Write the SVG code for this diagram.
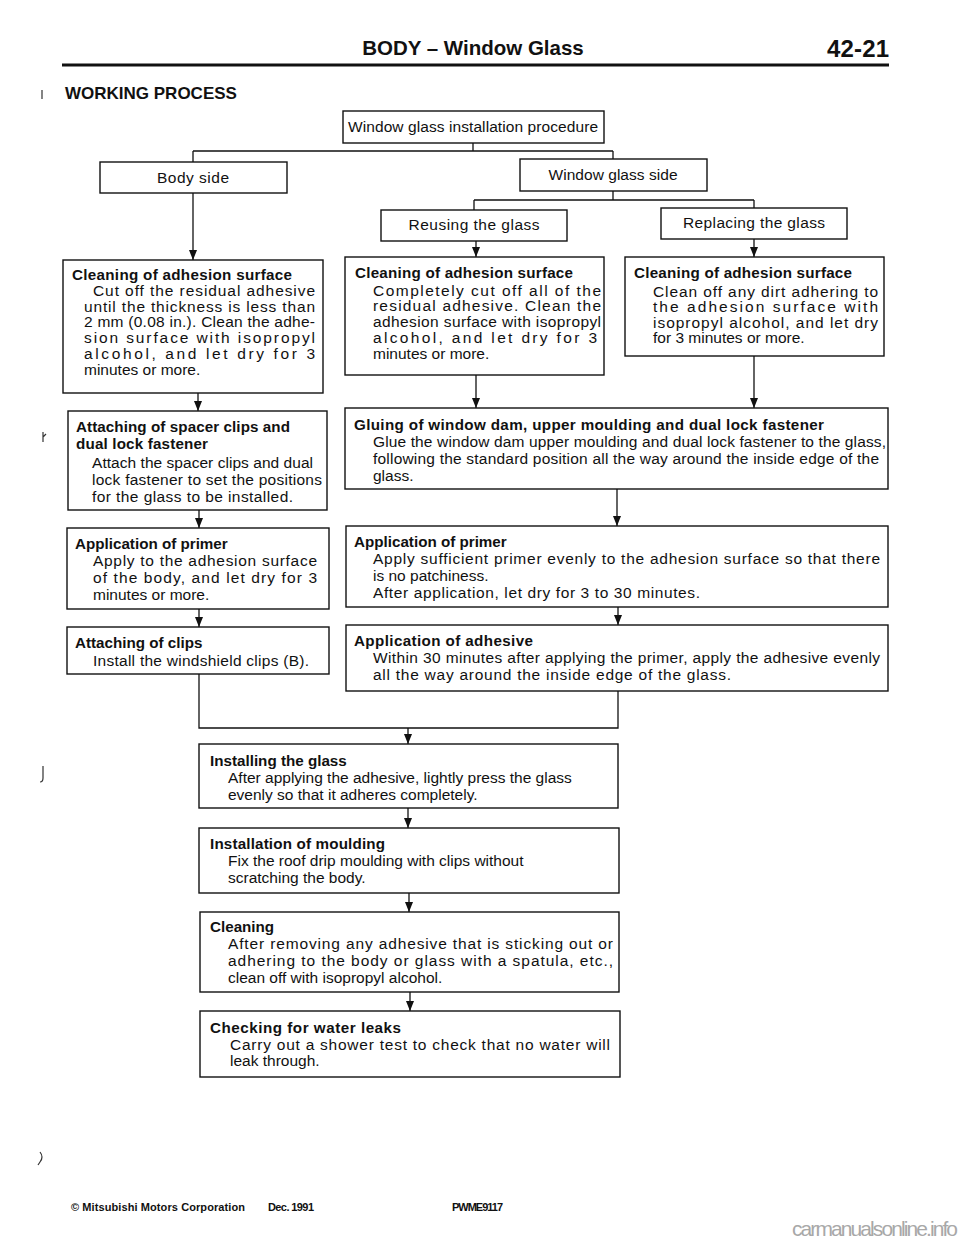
<svg xmlns="http://www.w3.org/2000/svg" width="960" height="1239" viewBox="0 0 960 1239">
<style>
.box{fill:#fff;stroke:#111;stroke-width:1.4}
.ln{fill:none;stroke:#111;stroke-width:1.3}
.arr{fill:none;stroke:#111;stroke-width:1.3;marker-end:url(#ah)}
.t{font-family:"Liberation Sans",Arial,sans-serif;font-size:15.5px;fill:#111}
.b{font-family:"Liberation Sans",Arial,sans-serif;font-size:15.2px;font-weight:bold;fill:#111}
.c{text-anchor:middle}
.h{font-family:"Liberation Sans",Arial,sans-serif;font-weight:bold;fill:#111}
.sp{stroke:#333;stroke-width:1.2;fill:none}
</style>
<defs>
<marker id="ah" markerUnits="userSpaceOnUse" markerWidth="10" markerHeight="10" viewBox="0 -5 10 10" refX="10" refY="0" orient="auto" overflow="visible">
<path d="M0,-4 L10,0 L0,4 z" fill="#111"/>
</marker>
</defs>
<rect width="960" height="1239" fill="#fff"/>

<g id="header">
<text class="h" x="473" y="55" font-size="20.5" text-anchor="middle">BODY – Window Glass</text>
<text class="h" x="827" y="57" font-size="24" textLength="62">42-21</text>
<line x1="62" y1="65" x2="889" y2="65" stroke="#111" stroke-width="3"/>
<text class="h" x="65" y="99" font-size="17">WORKING PROCESS</text>
<path class="sp" d="M42,90 L42,99"/>
</g>

<g id="connectors">
<path class="ln" d="M473,143 V151 M193,151 H613 M193,151 V162 M613,151 V159"/>
<path class="ln" d="M613,191 V200 M474,200 H754 M474,200 V210 M754,200 V208"/>
<path class="arr" d="M193,193 V260"/>
<path class="arr" d="M476,241 V257"/>
<path class="arr" d="M754,239 V257"/>
<path class="arr" d="M198,393 V411"/>
<path class="arr" d="M476,375 V408"/>
<path class="arr" d="M754,356 V408"/>
<path class="arr" d="M199,510 V528"/>
<path class="arr" d="M617,489 V526"/>
<path class="arr" d="M199,609 V627"/>
<path class="arr" d="M618,607 V625"/>
<path class="ln" d="M199,674 V728 H618 V691"/>
<path class="arr" d="M408,728 V744"/>
<path class="arr" d="M408,808 V828"/>
<path class="arr" d="M409,893 V912"/>
<path class="arr" d="M410,992 V1011"/>
</g>

<g id="n-procedure">
<rect class="box" x="343" y="111" width="261" height="32"/>
<text class="t c" x="473" y="132" textLength="250">Window glass installation procedure</text>
</g>
<g id="n-body-side">
<rect class="box" x="100" y="162" width="187" height="31"/>
<text class="t c" x="193" y="183" textLength="72">Body side</text>
</g>
<g id="n-glass-side">
<rect class="box" x="520" y="159" width="187" height="32"/>
<text class="t c" x="613" y="180" textLength="129">Window glass side</text>
</g>
<g id="n-reusing">
<rect class="box" x="381" y="210" width="186" height="31"/>
<text class="t c" x="474" y="230" textLength="131">Reusing the glass</text>
</g>
<g id="n-replacing">
<rect class="box" x="661" y="208" width="186" height="31"/>
<text class="t c" x="754" y="228" textLength="142">Replacing the glass</text>
</g>

<g id="n-clean-body">
<rect class="box" x="63" y="260" width="260" height="133"/>
<text class="b" x="72" y="280" textLength="220">Cleaning of adhesion surface</text>
<text class="t" x="93" y="296" textLength="222">Cut off the residual adhesive</text>
<text class="t" x="84" y="311.7" textLength="231">until the thickness is less than</text>
<text class="t" x="84" y="327.4" textLength="231">2 mm (0.08 in.). Clean the adhe-</text>
<text class="t" x="84" y="343.1" textLength="231">sion surface with isopropyl</text>
<text class="t" x="84" y="358.8" textLength="231">alcohol, and let dry for 3</text>
<text class="t" x="84" y="374.5">minutes or more.</text>
</g>

<g id="n-clean-reuse">
<rect class="box" x="345" y="257" width="259" height="118"/>
<text class="b" x="355" y="278" textLength="218">Cleaning of adhesion surface</text>
<text class="t" x="373" y="295.5" textLength="228">Completely cut off all of the</text>
<text class="t" x="373" y="311.3" textLength="228">residual adhesive. Clean the</text>
<text class="t" x="373" y="327" textLength="228">adhesion surface with isopropyl</text>
<text class="t" x="373" y="342.8" textLength="224">alcohol, and let dry for 3</text>
<text class="t" x="373" y="358.5">minutes or more.</text>
</g>

<g id="n-clean-replace">
<rect class="box" x="625" y="257" width="259" height="99"/>
<text class="b" x="634" y="278" textLength="218">Cleaning of adhesion surface</text>
<text class="t" x="653" y="296.5" textLength="225">Clean off any dirt adhering to</text>
<text class="t" x="653" y="312" textLength="225">the adhesion surface with</text>
<text class="t" x="653" y="327.5" textLength="225">isopropyl alcohol, and let dry</text>
<text class="t" x="653" y="343">for 3 minutes or more.</text>
</g>

<g id="n-spacer">
<rect class="box" x="68" y="411" width="259" height="99"/>
<text class="b" x="76" y="432" textLength="214">Attaching of spacer clips and</text>
<text class="b" x="76" y="449" textLength="132">dual lock fastener</text>
<text class="t" x="92" y="468" textLength="221">Attach the spacer clips and dual</text>
<text class="t" x="92" y="485" textLength="230">lock fastener to set the positions</text>
<text class="t" x="92" y="502" textLength="201">for the glass to be installed.</text>
<path class="sp" d="M43,432 V442 M43,437 L46,434"/>
</g>

<g id="n-gluing">
<rect class="box" x="345" y="408" width="543" height="81"/>
<text class="b" x="354" y="430" textLength="470">Gluing of window dam, upper moulding and dual lock fastener</text>
<text class="t" x="373" y="447" textLength="513">Glue the window dam upper moulding and dual lock fastener to the glass,</text>
<text class="t" x="373" y="464" textLength="506">following the standard position all the way around the inside edge of the</text>
<text class="t" x="373" y="481">glass.</text>
</g>

<g id="n-primer-body">
<rect class="box" x="67" y="528" width="262" height="81"/>
<text class="b" x="75" y="549">Application of primer</text>
<text class="t" x="93" y="566" textLength="224">Apply to the adhesion surface</text>
<text class="t" x="93" y="583" textLength="224">of the body, and let dry for 3</text>
<text class="t" x="93" y="600">minutes or more.</text>
</g>

<g id="n-primer-glass">
<rect class="box" x="346" y="526" width="542" height="81"/>
<text class="b" x="354" y="547">Application of primer</text>
<text class="t" x="373" y="564" textLength="507">Apply sufficient primer evenly to the adhesion surface so that there</text>
<text class="t" x="373" y="581">is no patchiness.</text>
<text class="t" x="373" y="598" textLength="327">After application, let dry for 3 to 30 minutes.</text>
</g>

<g id="n-clips">
<rect class="box" x="67" y="627" width="262" height="47"/>
<text class="b" x="75" y="648">Attaching of clips</text>
<text class="t" x="93" y="666" textLength="216">Install the windshield clips (B).</text>
</g>

<g id="n-adhesive">
<rect class="box" x="346" y="625" width="542" height="66"/>
<text class="b" x="354" y="646" textLength="179">Application of adhesive</text>
<text class="t" x="373" y="663" textLength="507">Within 30 minutes after applying the primer, apply the adhesive evenly</text>
<text class="t" x="373" y="680" textLength="358">all the way around the inside edge of the glass.</text>
</g>

<g id="n-installing">
<rect class="box" x="199" y="744" width="419" height="64"/>
<text class="b" x="210" y="766">Installing the glass</text>
<text class="t" x="228" y="783">After applying the adhesive, lightly press the glass</text>
<text class="t" x="228" y="800">evenly so that it adheres completely.</text>
<path class="sp" d="M43,766 V778 Q43,782 40,782"/>
</g>

<g id="n-moulding">
<rect class="box" x="199" y="828" width="420" height="65"/>
<text class="b" x="210" y="849" textLength="175">Installation of moulding</text>
<text class="t" x="228" y="866">Fix the roof drip moulding with clips without</text>
<text class="t" x="228" y="883">scratching the body.</text>
</g>

<g id="n-cleaning">
<rect class="box" x="200" y="912" width="419" height="80"/>
<text class="b" x="210" y="932">Cleaning</text>
<text class="t" x="228" y="949" textLength="385">After removing any adhesive that is sticking out or</text>
<text class="t" x="228" y="966" textLength="385">adhering to the body or glass with a spatula, etc.,</text>
<text class="t" x="228" y="983">clean off with isopropyl alcohol.</text>
</g>

<g id="n-checking">
<rect class="box" x="200" y="1011" width="420" height="66"/>
<text class="b" x="210" y="1033" textLength="191">Checking for water leaks</text>
<text class="t" x="230" y="1050" textLength="380">Carry out a shower test to check that no water will</text>
<text class="t" x="230" y="1066">leak through.</text>
</g>

<g id="footer">
<path class="sp" d="M40,1152 Q44,1157 40,1162 L38,1165"/>
<text class="h" x="71" y="1211" font-size="11" textLength="174">© Mitsubishi Motors Corporation</text>
<text class="h" x="268" y="1211" font-size="11" textLength="46">Dec. 1991</text>
<text class="h" x="452" y="1211" font-size="11" textLength="51">PWME9117</text>
<text x="792" y="1236" font-family="Liberation Sans,Arial,sans-serif" font-size="21" fill="#a8a8a8" textLength="166">carmanualsonline.info</text>
</g>
</svg>
